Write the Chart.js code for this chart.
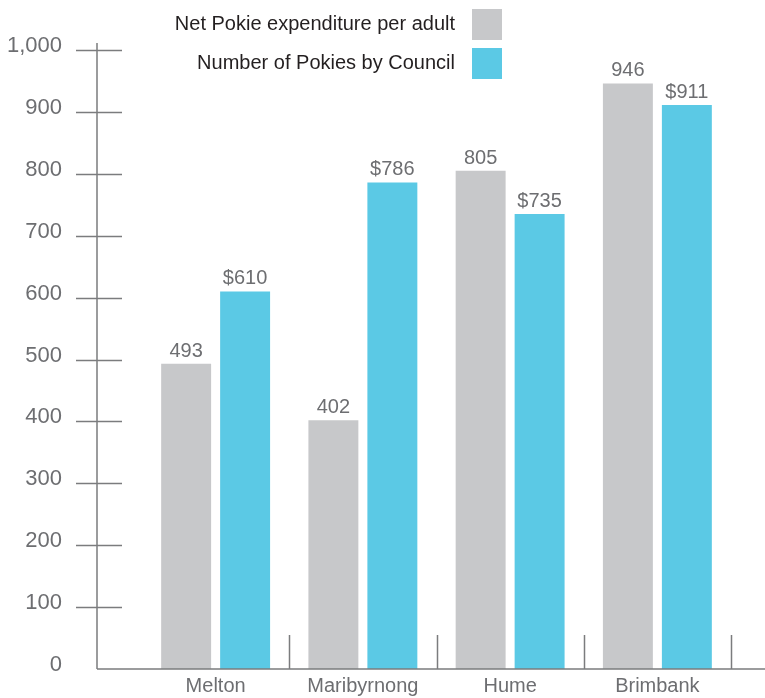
<!DOCTYPE html>
<html>
<head>
<meta charset="utf-8">
<script src="https://cdn.jsdelivr.net/npm/chart.js@4/dist/chart.umd.min.js"></script>
<style>
  html, body { margin: 0; padding: 0; background: #ffffff; }
  #wrap { width: 765px; height: 698px; }
</style>
</head>
<body>
<div id="wrap"><canvas id="c" width="765" height="698"></canvas></div>
<script>
// ---- data ----
const categories = ['Melton', 'Maribyrnong', 'Hume', 'Brimbank'];
const seriesNames = ['Net Pokie expenditure per adult', 'Number of Pokies by Council'];
const expenditureValues = [493, 402, 805, 946];
const pokiesValues = [610, 786, 735, 911];
const valuePrefixes = ['', '$'];
const yTickValues = [0, 100, 200, 300, 400, 500, 600, 700, 800, 900, 1000];

const GRAY = '#c7c8ca';
const BLUE = '#5bc9e5';
const AXIS = '#7b7c7e';
const LABEL = '#6d6e71';
const FONT = '"Liberation Sans", Arial, Helvetica, sans-serif';

const axisPlugin = {
  id: 'customAxes',
  afterDatasetsDraw(chart) {
    const ctx = chart.ctx;
    const y = chart.scales.y, x = chart.scales.x;
    const axisX = y.right - 45;
    const baseY = y.getPixelForValue(0);
    ctx.save();
    ctx.strokeStyle = AXIS;
    ctx.lineWidth = 1.5;
    ctx.beginPath();
    // vertical axis
    ctx.moveTo(axisX, y.top - 7);
    ctx.lineTo(axisX, baseY);
    // horizontal axis
    ctx.moveTo(axisX, baseY);
    ctx.lineTo(chart.width, baseY);
    // y tick crosses
    yTickValues.forEach(v => {
      if (v === 0) return;
      const py = Math.round(y.getPixelForValue(v)) + 0.5;
      ctx.moveTo(axisX - 21, py);
      ctx.lineTo(axisX + 25, py);
    });
    // category separators
    const n = categories.length;
    for (let i = 1; i <= n; i++) {
      const px = Math.round(x.left + i * x.width / n) + 0.5;
      ctx.moveTo(px, baseY - 34);
      ctx.lineTo(px, baseY);
    }
    ctx.stroke();

    // value labels
    ctx.fillStyle = LABEL;
    ctx.font = '20px ' + FONT;
    ctx.textAlign = 'center';
    ctx.textBaseline = 'alphabetic';
    chart.data.datasets.forEach((ds, di) => {
      const meta = chart.getDatasetMeta(di);
      meta.data.forEach((bar, i) => {
        ctx.fillText(valuePrefixes[di] + ds.data[i], bar.x, bar.y - 7);
      });
    });

    // legend (text to the left of the swatch)
    ctx.font = '20px ' + FONT;
    ctx.textAlign = 'right';
    ctx.textBaseline = 'middle';
    chart.data.datasets.forEach((ds, di) => {
      const top = 9 + di * 39;
      ctx.fillStyle = ds.backgroundColor;
      ctx.fillRect(472, top, 30, 31);
      ctx.fillStyle = '#231f20';
      ctx.fillText(ds.label, 455, top + 15.5);
    });
    ctx.restore();
  }
};

new Chart(document.getElementById('c'), {
  type: 'bar',
  data: {
    labels: categories,
    datasets: [
      { label: seriesNames[0], data: expenditureValues, backgroundColor: GRAY,
        barPercentage: 0.847, categoryPercentage: 0.801 },
      { label: seriesNames[1], data: pokiesValues, backgroundColor: BLUE,
        barPercentage: 0.847, categoryPercentage: 0.801 }
    ]
  },
  options: {
    responsive: false,
    animation: false,
    devicePixelRatio: 1,
    layout: { padding: { top: 50, right: 34, left: 0, bottom: 0 } },
    plugins: {
      legend: { display: false },
      tooltip: { enabled: false },
      title: { display: false }
    },
    scales: {
      x: {
        grid: { display: false, drawTicks: false },
        border: { display: false },
        ticks: { color: LABEL, font: { family: FONT, size: 20 }, padding: 5, maxRotation: 0 },
        afterFit(s) { s.height = 29; s.paddingLeft = 0; s.paddingRight = 0; }
      },
      y: {
        min: 0, max: 1000,
        grid: { display: false, drawTicks: false },
        border: { display: false },
        ticks: {
          stepSize: 100,
          color: LABEL,
          font: { family: FONT, size: 22 },
          padding: 80,
          labelOffset: -4,
          callback: v => v.toLocaleString('en-US')
        },
        afterFit(s) { s.width = 142; s.paddingTop = 0; s.paddingBottom = 0; }
      }
    }
  },
  plugins: [axisPlugin]
});
</script>
</body>
</html>
